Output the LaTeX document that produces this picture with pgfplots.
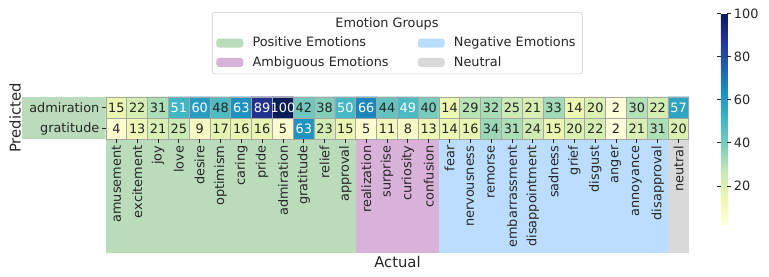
\documentclass[border=0pt]{standalone}
\usepackage{pgfplots}
\usepackage{pgfplotstable}
\pgfplotsset{compat=1.18}
\usepackage{fontspec}
\setmainfont{DejaVu Sans}
\definecolor{posg}{RGB}{186,220,186}
\definecolor{ambp}{RGB}{217,178,217}
\definecolor{negb}{RGB}{187,221,255}
\definecolor{neug}{RGB}{217,217,217}
\definecolor{txt}{RGB}{38,38,38}
\newcommand\fs{\fontsize{9.3}{11}\selectfont}
\newcommand\fl{\fontsize{10.7}{12}\selectfont}
\pgfplotstableread{
x y v
0 0 4
1 0 13
2 0 21
3 0 25
4 0 9
5 0 17
6 0 16
7 0 16
8 0 5
9 0 63
10 0 23
11 0 15
12 0 5
13 0 11
14 0 8
15 0 13
16 0 14
17 0 16
18 0 34
19 0 31
20 0 24
21 0 15
22 0 20
23 0 22
24 0 2
25 0 21
26 0 31
27 0 20
0 1 15
1 1 22
2 1 31
3 1 51
4 1 60
5 1 48
6 1 63
7 1 89
8 1 100
9 1 42
10 1 38
11 1 50
12 1 66
13 1 44
14 1 49
15 1 40
16 1 14
17 1 29
18 1 32
19 1 25
20 1 21
21 1 33
22 1 14
23 1 20
24 1 2
25 1 30
26 1 22
27 1 57
}\heat
\begin{document}
\begin{tikzpicture}
\begin{axis}[
  name=main,
  x=14.99bp, y=15.12bp,
  xmin=-0.5, xmax=27.5, ymin=-0.5, ymax=1.5,
  enlargelimits=false,
  clip=false,
  axis on top,
  axis line style={draw=none},
  xtick={0,...,27},
  xticklabels={amusement,excitement,joy,love,desire,optimism,caring,pride,admiration,gratitude,relief,approval,realization,surprise,curiosity,confusion,fear,nervousness,remorse,embarrassment,disappointment,sadness,grief,disgust,anger,annoyance,disapproval,neutral},
  ytick={0,1}, yticklabels={gratitude,admiration},
  xtick pos=left, ytick pos=left,
  tick align=outside,
  major tick length=2.6bp,
  tick style={color=txt, line width=0.6bp},
  minor xtick={-0.5,0.5,...,27.5},
  minor ytick={-0.5,0.5,1.5},
  minor tick length=0pt,
  xminorgrids, yminorgrids,
  minor grid style={color=black!35, line width=0.7bp},
  xticklabel style={rotate=90, anchor=east, font=\fs, text=txt, inner sep=2bp},
  yticklabel style={font=\fs, text=txt, inner sep=2bp},
  xlabel={Actual}, ylabel={Predicted},
  xlabel style={font=\fl, text=txt, at={(axis description cs:0.5,-3.05)}, anchor=base},
  ylabel style={font=\fl, text=txt, at={(axis description cs:-0.156,0.5)}, anchor=center},
  colormap={YlGnBu}{rgb255=(255,255,217) rgb255=(237,248,177) rgb255=(199,233,180) rgb255=(127,205,187) rgb255=(65,182,196) rgb255=(29,145,192) rgb255=(34,94,168) rgb255=(37,52,148) rgb255=(8,29,88)},
  point meta min=2, point meta max=100,
  colorbar,
  colorbar style={
    at={(parent axis.north east)}, anchor=north west,
    xshift=14.4bp, yshift=60bp,
    scale only axis,
    width=4.7bp, height=152bp,
    ytick={20,40,60,80,100},
    axis line style={draw=none},
    tick align=outside, major tick length=2.6bp,
    tick style={color=txt, line width=0.6bp},
    yticklabel style={font=\fs, text=txt, /pgf/number format/assume math mode=true, inner sep=2bp},
  },
  legend columns=2,
  legend cell align=left,
  legend image code/.code={\fill[#1] (0bp,-3.2bp) rectangle (19.4bp,3.2bp); \path (0bp,0bp) -- (24bp,0bp);},
  legend style={
    at={(0.1818,3.024)}, anchor=north west,
    draw=black!20, rounded corners=2bp, fill=white,
    font=\fs, text=txt,
    inner xsep=3bp, inner ysep=2bp,
    row sep=1.4bp,
    /tikz/every even column/.append style={column sep=19bp},
  },
]
\addlegendimage{empty legend}
\addlegendentry{\makebox[0pt][l]{\hspace{59.7bp}Emotion Groups}}
\addlegendimage{empty legend}
\addlegendentry{}
\addplot[fill=posg, draw=none] coordinates {(-4.53,-0.5) (-4.53,1.5) (11.5,1.5) (11.5,-5.93) (-0.5,-5.93) (-0.5,-0.5)} -- cycle;
\addlegendentry{Positive Emotions}
\addplot[fill=negb, draw=none] coordinates {(15.5,1.5) (26.5,1.5) (26.5,-5.93) (15.5,-5.93)} -- cycle;
\addlegendentry{Negative Emotions}
\addplot[fill=ambp, draw=none] coordinates {(11.5,1.5) (15.5,1.5) (15.5,-5.93) (11.5,-5.93)} -- cycle;
\addlegendentry{Ambiguous Emotions\rule[-8bp]{0pt}{1pt}}
\addplot[fill=neug, draw=none] coordinates {(26.5,1.5) (27.5,1.5) (27.5,-5.93) (26.5,-5.93)} -- cycle;
\addlegendentry{Neutral\rule[-8bp]{0pt}{1pt}}
\addplot[matrix plot*, mesh/cols=28, point meta=explicit, forget plot] table[x=x, y=y, meta=v] {\heat};
\addplot[draw=none, mark=none, forget plot, point meta=explicit,
  restrict expr to domain={\thisrow{v}}{0:48.5},
  nodes near coords={\pgfmathprintnumber{\pgfplotspointmeta}},
  nodes near coords align={center},
  every node near coord/.append style={font=\fs, text=txt, inner sep=0pt, anchor=center, /pgf/number format/assume math mode=true},
] table[x=x, y=y, meta=v] {\heat};
\addplot[draw=none, mark=none, forget plot, point meta=explicit,
  restrict expr to domain={\thisrow{v}}{48.5:1000},
  nodes near coords={\pgfmathprintnumber{\pgfplotspointmeta}},
  nodes near coords align={center},
  every node near coord/.append style={font=\fs, text=white, inner sep=0pt, anchor=center, /pgf/number format/assume math mode=true},
] table[x=x, y=y, meta=v] {\heat};
\end{axis}
\pgfresetboundingbox
\path ([shift={(-76.32bp,-99.36bp)}]main.south west) rectangle ([shift={(477.36bp,100.08bp)}]main.south west);
\end{tikzpicture}
\end{document}
